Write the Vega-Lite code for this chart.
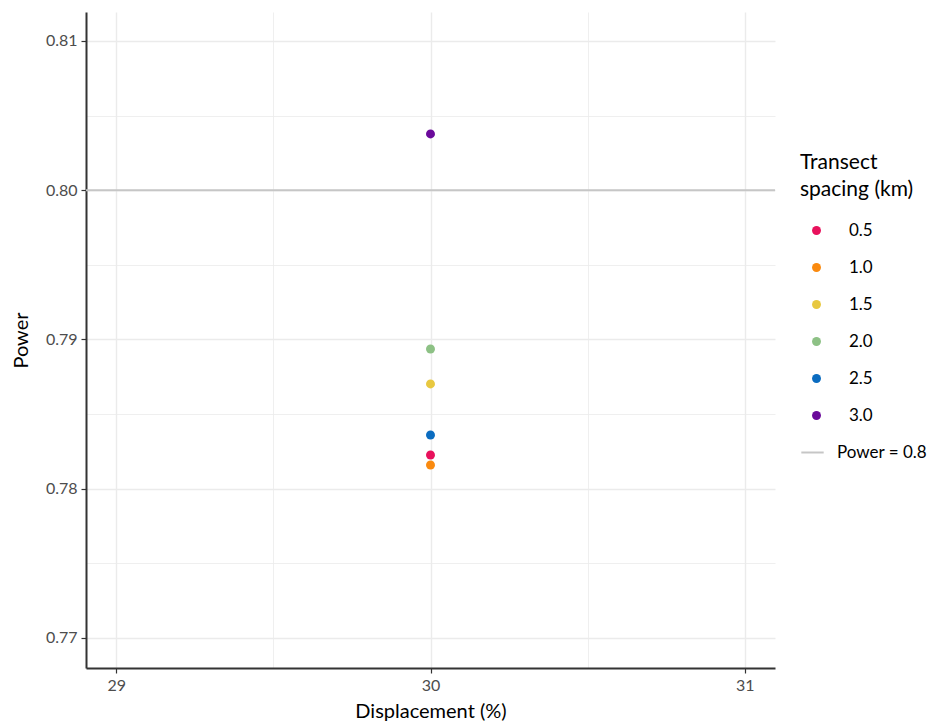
{
  "$schema": "https://vega.github.io/schema/vega-lite/v6.json",
  "autosize": "none",
  "width": 689,
  "height": 656,
  "padding": {"left": 86, "top": 12, "right": 176, "bottom": 59},
  "background": "white",
  "config": {
    "font": "Lato",
    "view": {"stroke": null},
    "axis": {
      "domainColor": "#333333",
      "domainWidth": 2,
      "tickSize": 5,
      "tickWidth": 1.2,
      "labelColor": "#4d4d4d",
      "labelFontSize": 16,
      "labelFont": "Lato",
      "titleFont": "Lato",
      "titleFontSize": 20,
      "titleFontWeight": "normal",
      "titleColor": "#000000",
      "labelPadding": 4
    },
    "legend": {
      "labelFont": "Lato",
      "titleFont": "Lato"
    }
  },
  "encoding": {
    "y": {
      "field": "power",
      "type": "quantitative",
      "title": "Power",
      "scale": {"domain": [0.76799, 0.81194], "nice": false, "zero": false},
      "axis": {
        "values": [0.77, 0.775, 0.78, 0.785, 0.79, 0.795, 0.8, 0.805, 0.81],
        "labelExpr": "round(datum.value*1000) % 10 === 0 ? format(datum.value, '.2f') : ''",
        "tickColor": {"condition": {"test": "round(datum.value*1000) % 10 === 0", "value": "#333333"}, "value": "transparent"},
        "gridColor": "#ebebeb",
        "gridWidth": {"condition": {"test": "round(datum.value*1000) % 10 === 0", "value": 1.4}, "value": 0.8},
        "titlePadding": 14
      }
    }
  },
  "layer": [
    {
      "data": {"values": [{"power": 0.8, "label": "Power = 0.8"}]},
      "mark": {"type": "rule", "strokeWidth": 2},
      "encoding": {
        "stroke": {
          "field": "label",
          "type": "nominal",
          "scale": {"range": ["#c6c6c6"]},
          "legend": {
            "title": null,
            "orient": "none",
            "legendX": 714,
            "legendY": 428,
            "symbolType": "stroke",
            "symbolStrokeWidth": 2,
            "symbolSize": 500,
            "labelFontSize": 17,
            "labelColor": "#000000",
            "labelOffset": 12
          }
        }
      }
    },
    {
      "data": {
        "values": [
          {"displacement": 30, "power": 0.78226, "spacing": "0.5"},
          {"displacement": 30, "power": 0.78159, "spacing": "1.0"},
          {"displacement": 30, "power": 0.78702, "spacing": "1.5"},
          {"displacement": 30, "power": 0.78936, "spacing": "2.0"},
          {"displacement": 30, "power": 0.7836, "spacing": "2.5"},
          {"displacement": 30, "power": 0.80377, "spacing": "3.0"}
        ]
      },
      "mark": {"type": "point", "filled": true, "size": 80, "opacity": 1},
      "encoding": {
        "x": {
          "field": "displacement",
          "type": "quantitative",
          "title": "Displacement (%)",
          "scale": {"domain": [28.904, 31.096], "nice": false, "zero": false},
          "axis": {
            "values": [29, 29.5, 30, 30.5, 31],
            "labelExpr": "datum.value % 1 === 0 ? format(datum.value, 'd') : ''",
            "tickColor": {"condition": {"test": "datum.value % 1 === 0", "value": "#333333"}, "value": "transparent"},
            "gridColor": "#ebebeb",
            "gridWidth": {"condition": {"test": "datum.value % 1 === 0", "value": 1.4}, "value": 0.8},
            "titlePadding": 8
          }
        },
        "color": {
          "field": "spacing",
          "type": "nominal",
          "scale": {
            "domain": ["0.5", "1.0", "1.5", "2.0", "2.5", "3.0"],
            "range": ["#E8115C", "#FA8A0F", "#E8C840", "#8DC185", "#0B6CC0", "#6B0A9B"]
          },
          "legend": {
            "title": ["Transect", "spacing (km)"],
            "orient": "none",
            "legendX": 714,
            "legendY": 140,
            "titleFontSize": 21,
            "titleFontWeight": "normal",
            "titleColor": "#000000",
            "titleLineHeight": 27,
            "titlePadding": 22,
            "labelFontSize": 17,
            "labelColor": "#000000",
            "labelOffset": 24,
            "symbolType": "circle",
            "symbolSize": 80,
            "symbolOffset": 8,
            "rowPadding": 19
          }
        }
      }
    }
  ]
}
